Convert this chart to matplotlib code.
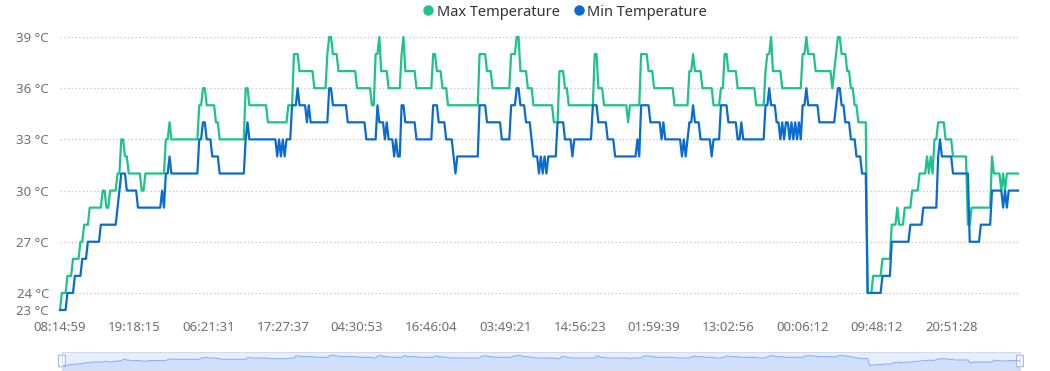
import numpy as np
import matplotlib
matplotlib.use("Agg")
import matplotlib.pyplot as plt
from matplotlib.lines import Line2D
from matplotlib.patches import FancyBboxPatch, Rectangle

plt.rcParams["font.family"] = ["Noto Sans", "DejaVu Sans"]

# time labels shown on the category axis (one every 40 readings)
time_labels = ["08:14:59", "19:18:15", "06:21:31", "17:27:37", "04:30:53",
               "16:46:04", "03:49:21", "14:56:23", "01:59:39", "13:02:56",
               "00:06:12", "09:48:12", "20:51:28"]
label_every = 40

# series stored as runs: level value, and reading index where the run ends
max_levels = [23, 24, 25, 26, 27, 28, 29, 30, 29, 30, 31, 33, 32, 31, 30, 31, 33, 34, 33, 35,
              36, 35, 34, 33, 36, 35, 34, 35, 38, 37, 36, 38, 39, 38, 37, 36, 35, 38, 39, 37,
              36, 38, 39, 37, 36, 38, 37, 36, 35, 38, 37, 36, 38, 39, 37, 36, 35, 34, 37, 36,
              35, 38, 36, 35, 34, 35, 38, 37, 36, 35, 37, 38, 37, 36, 35, 36, 38, 37, 36, 35,
              37, 38, 39, 37, 36, 38, 39, 38, 37, 36, 37, 38, 39, 38, 37, 36, 35, 34, 24, 25,
              26, 28, 29, 28, 29, 30, 31, 32, 31, 32, 31, 33, 34, 33, 32, 28, 29, 32, 31, 30,
              31, 30, 31]
max_until = [1, 4, 7, 11, 13, 16, 23, 25, 27, 31, 33, 35, 37, 44, 46, 57, 59, 60, 75, 77,
             79, 84, 86, 100, 102, 112, 123, 126, 129, 137, 144, 145, 147, 150, 160, 168, 170, 172, 173, 177,
             184, 185, 186, 192, 201, 203, 206, 209, 226, 230, 233, 243, 246, 248, 252, 255, 266, 269, 272, 274,
             288, 290, 293, 306, 307, 313, 317, 320, 331, 339, 341, 342, 346, 352, 356, 358, 360, 365, 375, 380,
             381, 383, 384, 389, 400, 402, 403, 407, 416, 417, 418, 419, 421, 424, 426, 428, 430, 435, 438, 443,
             448, 451, 452, 455, 459, 463, 467, 468, 469, 470, 471, 473, 477, 481, 489, 491, 502, 503, 507, 508,
             509, 510, 517]

min_levels = [23, 24, 25, 26, 27, 28, 29, 30, 31, 30, 29, 30, 29, 31, 32, 31, 33, 34, 33, 32,
              31, 33, 34, 33, 32, 33, 32, 33, 32, 33, 35, 36, 35, 34, 35, 34, 36, 35, 34, 33,
              35, 34, 33, 34, 33, 32, 33, 32, 35, 34, 33, 35, 34, 33, 32, 31, 32, 35, 34, 33,
              35, 36, 35, 34, 33, 32, 31, 32, 31, 32, 31, 32, 34, 33, 32, 33, 35, 34, 33, 32,
              33, 32, 35, 34, 33, 34, 33, 32, 33, 32, 33, 34, 35, 34, 33, 32, 33, 35, 34, 33,
              34, 33, 35, 36, 35, 34, 33, 34, 33, 34, 33, 34, 33, 34, 33, 34, 33, 35, 36, 35,
              34, 35, 36, 35, 34, 33, 32, 31, 24, 25, 27, 28, 29, 32, 33, 32, 31, 27, 28, 30,
              29, 30, 29, 30]
min_until = [4, 8, 12, 15, 22, 31, 32, 33, 36, 42, 55, 56, 57, 59, 60, 75, 77, 79, 82, 86,
             100, 101, 102, 117, 118, 119, 120, 121, 122, 125, 128, 129, 133, 134, 135, 145, 147, 155, 165, 171,
             172, 175, 176, 177, 180, 181, 182, 184, 186, 192, 201, 204, 208, 212, 213, 214, 226, 230, 238, 243,
             246, 248, 251, 254, 255, 258, 259, 260, 261, 262, 263, 268, 272, 276, 277, 287, 290, 295, 299, 311,
             312, 313, 318, 324, 325, 326, 335, 336, 337, 338, 339, 341, 342, 345, 351, 352, 356, 360, 365, 367,
             368, 380, 382, 383, 386, 388, 389, 390, 391, 393, 394, 395, 396, 397, 398, 399, 400, 402, 403, 409,
             418, 419, 421, 423, 426, 429, 432, 435, 443, 448, 458, 465, 473, 474, 475, 481, 490, 496, 502, 508,
             509, 510, 511, 517]


def expand(levels, until):
    counts = np.diff([0] + until)
    return np.repeat(levels, counts)


max_temp = expand(max_levels, max_until)
min_temp = expand(min_levels, min_until)
x = np.arange(len(max_temp))

green = "#1dc38b"
blue = "#0a6bd1"
label_color = "#6e7079"

fig = plt.figure(figsize=(10.5, 3.71), dpi=100)
ax = fig.add_axes([60 / 1050, 1 - 310 / 371, 958 / 1050, 273 / 371])

ax.plot(x, max_temp, color=green, lw=1.6, clip_on=False, solid_joinstyle="round")
ax.plot(x, min_temp, color=blue, lw=1.6, clip_on=False, solid_joinstyle="round")

ax.set_xlim(0, len(x) - 1)
ax.set_ylim(23, 39)
yticks = [23, 24, 27, 30, 33, 36, 39]
ax.set_yticks(yticks, [f"{t} °C" for t in yticks])
ax.set_xticks(np.arange(len(time_labels)) * label_every, time_labels)
ax.tick_params(length=0, labelsize=9.5, labelcolor=label_color)
ax.tick_params(axis="y", pad=8)
ax.tick_params(axis="x", pad=8)
ax.grid(axis="y", linestyle=(0, (1, 2)), color="#c4c4c4", lw=0.9)
for s in ax.spines.values():
    s.set_visible(False)

# legend at the top
handles = [Line2D([], [], marker="o", color=green, linestyle="none", markersize=6.5),
           Line2D([], [], marker="o", color=blue, linestyle="none", markersize=6.5)]
fig.legend(handles, ["Max Temperature", "Min Temperature"], loc="center",
           bbox_to_anchor=(0.537, 1 - 12 / 371), ncol=2, frameon=False,
           fontsize=10.5, handletextpad=0.1, columnspacing=0.8, handlelength=1.0,
           labelcolor="#333333")

# data zoom slider
sl = fig.add_axes([62 / 1050, 1 - 370 / 371, 958 / 1050, 18 / 371])
sl.set_xlim(0, len(x) - 1)
sl.set_ylim(17, 44)
sl.add_patch(Rectangle((0, 0), 1, 1, transform=sl.transAxes,
                       facecolor=(135 / 255, 175 / 255, 1.0, 0.2), edgecolor="none"))
sl.fill_between(x, 17, max_temp, color="#8fb0f7", alpha=0.25, lw=0)
sl.plot(x, max_temp, color="#8fb0f7", lw=0.8)
sl.set_xticks([])
sl.set_yticks([])
for s in sl.spines.values():
    s.set_color("#d2dbee")
for hx in (0.0, 1.0):
    sl.add_patch(FancyBboxPatch((hx - 0.0035, 0.18), 0.007, 0.64,
                                boxstyle="round,pad=0,rounding_size=0.003",
                                transform=sl.transAxes, facecolor="white",
                                edgecolor="#a7b7cc", lw=0.8, clip_on=False))

fig.savefig("out.png", dpi=100)
